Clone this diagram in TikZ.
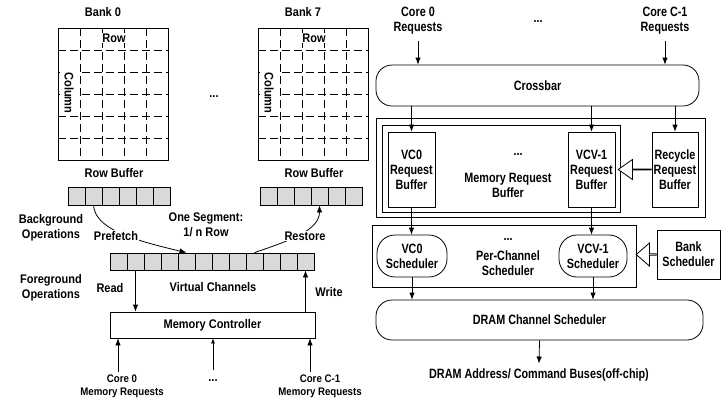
\documentclass[tikz,border=0pt]{standalone}
\usepackage{fontspec}
\setmainfont{Liberation Sans}[FakeStretch=0.88]
\newfontfamily\narrowfont{Liberation Sans}[FakeStretch=0.8]
\usetikzlibrary{arrows.meta,shapes.arrows}
\newcommand{\lfnt}{\bfseries\fontsize{12.5}{15}\selectfont}
\newcommand{\sfnt}{\bfseries\fontsize{11}{13}\selectfont}
\newcommand{\rfnt}{\narrowfont\bfseries\fontsize{13.5}{15}\selectfont}
\colorlet{cellgray}{black!15}
\tikzstyle{lbl}=[font=\lfnt,align=center,inner sep=2pt]
\tikzstyle{rlbl}=[font=\rfnt,align=center,inner sep=2pt]
\tikzstyle{cell}=[draw,fill=cellgray,minimum width=17pt,minimum height=18pt,inner sep=0pt,line width=0.8pt]
\tikzstyle{grid}=[line width=0.8pt,dash pattern=on 8pt off 4pt]
\tikzstyle{box}=[draw,line width=0.8pt,inner sep=0pt,align=center]
\tikzstyle{pill}=[box,rounded corners=16pt]
\tikzstyle{arr}=[line width=0.8pt,-{Latex[length=7pt,width=5.5pt]}]
\tikzstyle{harrow}=[single arrow,draw,fill=white,line width=0.8pt,inner sep=0pt,shape border rotate=180]

\begin{document}
\begin{tikzpicture}[x=1pt,y=-1pt]
    \useasboundingbox (0,0) rectangle (728,400);
    % banks and row buffers
    \foreach \bx/\bn/\rx/\lx in {58/0/68/103,258/7/260/303}{
        \node[lbl] (bank\bn) at (\lx,12) {Bank \bn};
        \draw[line width=0.8pt] (\bx,28) rectangle ++(110,132);
        \foreach \k in {1,...,4} \draw[grid] ({\bx+22*\k},28) -- ++(0,132);
        \foreach \k in {1,...,5} \draw[grid] (\bx,{28+22*\k}) -- ++(110,0);
        \node[lbl,fill=white,inner sep=1pt] (row\bn) at ({\bx+56},38) {Row};
        \node[lbl,fill=white,inner xsep=1pt,inner ysep=4pt,rotate=-90] (col\bn) at ({\bx+11},93) {Column};
        \node[lbl] (rbl\bn) at ({\bx+56},173) {Row Buffer};
        \foreach \i in {1,...,6}
            \node[cell] (rb\bn-\i) at ({\rx+8.5+17*(\i-1)},196) {};
    }
    \node[lbl] (bdots) at (214,97) {...};

    \node[lbl] (bgop) at (51,228) {Background\\Operations};
    \node[lbl] (fgop) at (51,288) {Foreground\\Operations};
    \node[lbl] (seg) at (206,225) {One Segment:\\1/ n Row};

    % virtual channels
    \foreach \i in {1,...,12}
        \node[cell,minimum height=17pt] (vc\i) at ({110+8.5+17*(\i-1)},261.5) {};
    \node[lbl] (vclbl) at (213,287) {Virtual Channels};

    \draw[arr] (rb0-2.south) .. controls +(2,22) and +(-60,-14) .. (vc5.north);
    \node[lbl,fill=white,inner sep=1pt] (pf) at (116,236) {Prefetch};
    \draw[arr] (vc9.north) .. controls +(35,-12) and +(0,25) .. (rb7-4.south);
    \node[lbl,fill=white,inner sep=1pt] (rs) at (305,236) {Restore};

    \node[box,font=\lfnt,minimum width=205pt,minimum height=26pt] (mc) at (212.5,325) {Memory Controller};
    \draw[arr] (vc2.south) -- (vc2.south |- mc.north);
    \draw[arr] (mc.north -| vc12.south) -- (vc12.south);
    \node[lbl] (rd) at (110,288) {Read};
    \node[lbl] (wr) at (329,292) {Write};

    \coordinate (in0) at (118,372);
    \coordinate (inm) at (213,370);
    \coordinate (in1) at (310,372);
    \draw[arr] (in0) -- (in0 |- mc.south);
    \draw[line width=0.6pt,-{Latex[length=5pt,width=4pt]}] (inm) -- (inm |- mc.south);
    \draw[arr] (in1) -- (in1 |- mc.south);
    \node[lbl,font=\sfnt] (core0) at (122,386) {Core 0\\Memory Requests};
    \node[lbl,font=\sfnt] (core1) at (320,386) {Core C-1\\Memory Requests};
    \node[lbl] (cdots) at (213,381) {...};

    % right side
    \node[rlbl] (cr0) at (418,21) {Core 0\\Requests};
    \node[rlbl] (crdots) at (538,21) {...};
    \node[rlbl] (cr1) at (665,21) {Core C-1\\Requests};
    \node[pill,font=\rfnt,minimum width=323pt,minimum height=41pt] (xbar) at (537.5,85.5) {Crossbar};
    \draw[arr] ([yshift=-4pt]cr0.south) -- (cr0.south |- xbar.north);
    \draw[arr] ([yshift=-4pt]cr1.south) -- (cr1.south |- xbar.north);

    \node[box,minimum width=329pt,minimum height=99pt] (outer) at (540.5,167.5) {};
    \node[box,minimum width=238pt,minimum height=87pt] (inner) at (501,168.5) {};
    \node[box,font=\rfnt,minimum width=47pt,minimum height=75pt] (vc0b) at (411.5,169.5) {VC0\\Request\\Buffer};
    \node[box,font=\rfnt,minimum width=47pt,minimum height=75pt] (vcvb) at (591.5,169.5) {VCV-1\\Request\\Buffer};
    \node[box,font=\rfnt,minimum width=46pt,minimum height=75pt] (recb) at (675,169.5) {Recycle\\Request\\Buffer};
    \node[rlbl] (mrdots) at (518,154) {...};
    \node[rlbl] (mrb) at (508,185) {Memory Request\\Buffer};
    \foreach \to in {vc0b,vcvb,recb}
        \draw[arr] (xbar.south -| \to.north) -- (\to.north);
    \node[harrow,minimum height=33pt,minimum width=20pt,single arrow head extend=7pt,single arrow tip angle=70,anchor=tail] (recarr) at (recb.west) {};

    \node[box,minimum width=264pt,minimum height=62pt] (pcs) at (504,256) {};
    \node[pill,font=\rfnt,rounded corners=18pt,minimum width=70pt,minimum height=42pt] (vc0s) at (412,256) {VC0\\Scheduler};
    \node[pill,font=\rfnt,rounded corners=18pt,minimum width=68pt,minimum height=42pt] (vcvs) at (593,256) {VCV-1\\Scheduler};
    \node[rlbl] (pcdots) at (508,239) {...};
    \node[rlbl] (pcl) at (508,263) {Per-Channel\\Scheduler};
    \node[box,font=\rfnt,minimum width=63pt,minimum height=49pt] (bank) at (688.5,254.5) {Bank\\Scheduler};
    \node[harrow,minimum height=20pt,minimum width=23pt,single arrow head extend=6.5pt,single arrow tip angle=82,anchor=tail] (bankarr) at (bank.west) {};
    \draw[arr] (vc0b.south) -- (vc0b.south |- vc0s.north);
    \draw[arr] (vcvb.south) -- (vcvb.south |- vcvs.north);

    \node[pill,font=\rfnt,minimum width=327pt,minimum height=40pt] (dcs) at (539.5,320) {DRAM Channel Scheduler};
    \draw[arr] (vc0s.south) -- (vc0s.south |- dcs.north);
    \draw[arr] (vcvs.south) -- (vcvs.south |- dcs.north);
    \node[rlbl,inner sep=5pt] (bus) at (539,375) {DRAM Address/ Command Buses(off-chip)};
    \draw[arr] (dcs.south) -- (bus.north);
\end{tikzpicture}
\end{document}
